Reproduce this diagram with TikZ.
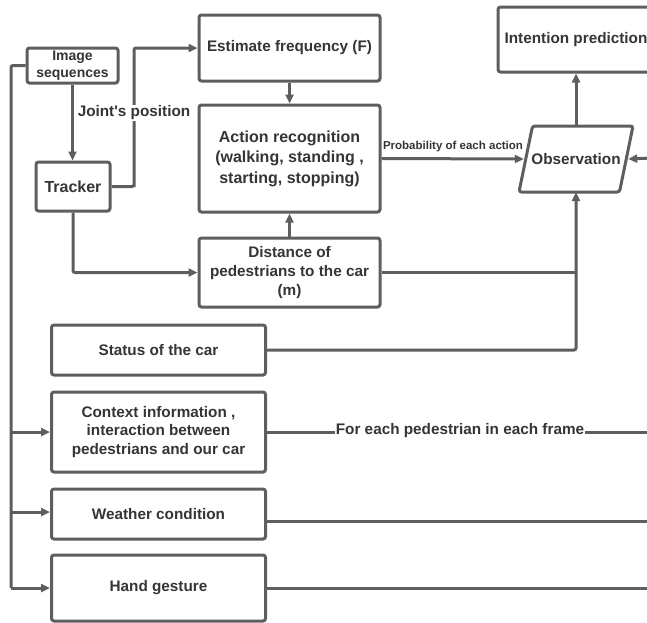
\documentclass[tikz,border=0pt]{standalone}
\usepackage{fontspec}
\setmainfont{Liberation Sans}[Ligatures=TeXOff]
\usetikzlibrary{arrows.meta}
\definecolor{lc}{HTML}{5E5E5E}
\definecolor{tc}{HTML}{353535}
\newcommand\myfs[2]{\fontsize{#1}{#2}\selectfont\bfseries}
\tikzset{
  box/.style={draw=lc, line width=3pt, rounded corners=2.5pt, fill=white, align=center, text=tc, inner sep=0pt, font=\myfs{15.3}{18.8}},
  conn/.style={draw=lc, line width=3pt, rounded corners=2pt},
  arr/.style={conn, -{Triangle[length=9pt,width=8pt]}},
  lbl/.style={text=tc, inner sep=1pt, fill=white, font=\myfs{15.3}{18}},
}
\begin{document}
\begin{tikzpicture}[x=1pt,y=-1pt]
\useasboundingbox (0,0) rectangle (647,622);
% nodes
\node[box, minimum width=91pt, minimum height=35pt, font=\myfs{14}{16.7}] (img) at (72.5,65.5) {Image\\sequences};
\node[box, minimum width=74pt, minimum height=49pt, font=\myfs{16}{19}] (trk) at (73,186.5) {Tracker};
\node[box, minimum width=181pt, minimum height=66pt] (est) at (289.5,48) {Estimate frequency (F)};
\node[box, minimum width=181pt, minimum height=107pt, font=\myfs{16}{20.5}] (act) at (289.5,158.5) {Action recognition\\(walking, standing ,\\starting, stopping)};
\node[box, minimum width=181pt, minimum height=69pt, font=\myfs{15.3}{19}] (dist) at (289.5,272.5) {Distance of\\pedestrians to the car\\(m)};
\node[box, minimum width=156pt, minimum height=65pt] (intent) at (576,39.5) {Intention prediction};
\node[minimum width=104pt, minimum height=66pt, inner sep=0pt, text=tc, font=\myfs{15.3}{18}] (obs) at (576,159) {};
\node[box, minimum width=214pt, minimum height=50pt] (status) at (158.5,350) {Status of the car};
\node[box, minimum width=214pt, minimum height=80pt, font=\myfs{15.3}{18.5}] (ctx) at (158.5,432) {Context information ,\\interaction between\\pedestrians and our car};
\node[box, minimum width=214pt, minimum height=50pt] (wea) at (158.5,514) {Weather condition};
\node[box, minimum width=214pt, minimum height=66pt] (hand) at (158.5,588) {Hand gesture};
% observation parallelogram
\draw[draw=lc, line width=3pt, rounded corners=2.5pt, fill=white]
  ([shift={(-43.5,-33)}]obs.center) -- ([shift={(57,-33)}]obs.center) --
  ([shift={(43.5,33)}]obs.center) -- ([shift={(-57,33)}]obs.center) -- cycle;
\node[text=tc, inner sep=0pt, font=\myfs{15.3}{18}] (obstext) at (obs.center) {Observation};
% coordinates
\coordinate (bb) at (11,588);
\coordinate (tk) at (134,185);
\coordinate (rin) at (652,158);
\coordinate (rctx) at (652,432);
\coordinate (rwea) at (652,521);
\coordinate (rhand) at (652,588);
% connectors
\draw[arr] (img.south -| 72.5,0) -- (72.5,0 |- trk.north);
\draw[arr] (trk.east) -| (tk) |- (est.west);
\node[lbl] (jp) at (134,113) {Joint's position};
\draw[arr] (trk.south) |- (dist.west);
\draw[arr] (est.south) -- (act.north);
\draw[arr] (dist.north) -- (act.south);
\draw[arr] (act.east) -- (obs.west);
\node[text=tc, inner sep=0pt, font=\myfs{11.5}{13}] (prob) at (453,147) {Probability of each action};
\draw[conn] (dist.east) -- (dist.east -| obs.south);
\draw[arr] (status.east) -| (obs.south);
\draw[arr] (obs.north) -- (intent.south);
\draw[arr] (rin) -- (obs.east);
\draw[conn] (ctx.east) -- (rctx);
\node[lbl, inner sep=0.5pt] (fe) at (460,431) {For each pedestrian in each frame};
\draw[conn] ([yshift=-7pt]wea.east) -- (rwea);
\draw[conn] (hand.east) -- (rhand);
\draw[conn] (img.west) -| (bb);
\draw[arr] (bb) -- (hand.west);
\draw[arr] (bb |- ctx.west) -- (ctx.west);
\draw[arr] ([yshift=2pt]bb |- wea.west) -- ([yshift=2pt]wea.west);
\end{tikzpicture}
\end{document}
